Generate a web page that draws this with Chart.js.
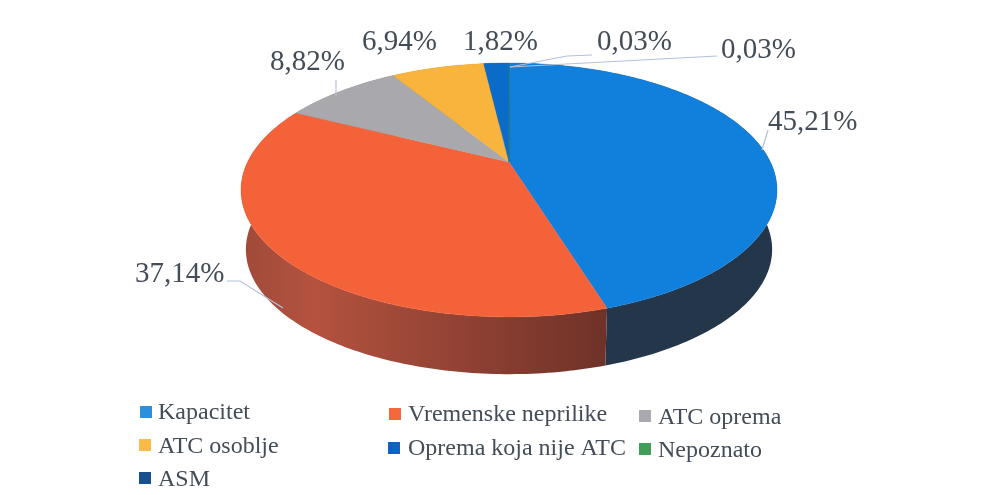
<!DOCTYPE html>
<html><head><meta charset="utf-8">
<style>html,body{margin:0;padding:0;background:#fff}#w{width:999px;height:495px;position:relative}canvas{filter:blur(0.45px)}</style>
<script src="https://cdn.jsdelivr.net/npm/chart.js@4"></script>
</head><body><div id="w"><canvas id="c" width="999" height="495"></canvas></div>
<script>
const categories = ['Kapacitet','Vremenske neprilike','ATC oprema','ATC osoblje','Oprema koja nije ATC','Nepoznato','ASM'];
const shares = [45.21,37.14,8.82,6.94,1.82,0.03,0.03];
const shareLabels = ['45,21%','37,14%','8,82%','6,94%','1,82%','0,03%','0,03%'];
const topColors = ['#1180dc','#f4623a','#a9a8ac','#f8b43c','#0a6cc8','#3a9a52','#1a5a9c'];
const legendColors = ['#2b8fe0','#f4683e','#a9a9b0','#f9bb45','#0e62c4','#3f9e58','#17508f'];
const sideColors = [['#283a4d','#24364a','#24364a'],['#a04a3a','#b4523f','#6e3228'],['#77777a','#77777a','#77777a'],['#a8802e','#a8802e','#a8802e'],['#084a88','#084a88','#084a88'],['#24602f','#24602f','#24602f'],['#0f3a66','#0f3a66','#0f3a66']];

// Perspective projection of the pie disc, scaled from the arc's own radius
const KX=2.64, KY=1.22, PERSP=0.2205, DEPTH=60, BOTTOM_SCALE=0.982;
function rim(el,ang,bottom){
  const u=Math.cos(ang), v=Math.sin(ang), d=1-PERSP*v, r=el.outerRadius;
  const s=bottom?BOTTOM_SCALE:1;
  return [el.x+s*KX*r*u/d, el.y+s*KY*r*v/d+(bottom?DEPTH:0)];
}
function rimPoints(el,bottom){
  const n=Math.max(2,Math.ceil((el.endAngle-el.startAngle)*60)),pts=[];
  for(let i=0;i<=n;i++)pts.push(rim(el,el.startAngle+(el.endAngle-el.startAngle)*i/n,bottom));
  return pts;
}
Chart.ArcElement.prototype.draw=function(ctx){
  const o=this.options; ctx.save();
  ctx.beginPath(); ctx.moveTo(this.x,this.y);
  rimPoints(this,false).forEach(p=>ctx.lineTo(p[0],p[1]));
  ctx.closePath(); ctx.fillStyle=o.backgroundColor; ctx.fill();
  ctx.strokeStyle=o.backgroundColor; ctx.lineWidth=0.4; ctx.stroke();
  ctx.restore();
};
const sides={id:'sides',beforeDatasetsDraw(chart){
  const ctx=chart.ctx;
  chart.getDatasetMeta(0).data.forEach((el,i)=>{
    const a=rimPoints(el,false),b=rimPoints(el,true).reverse();
    const xs=a.concat(b).map(p=>p[0]);
    const g=ctx.createLinearGradient(Math.min(...xs),0,Math.max(...xs),0);
    g.addColorStop(0,sideColors[i][0]);g.addColorStop(0.2,sideColors[i][1]);g.addColorStop(1,sideColors[i][2]);
    ctx.beginPath();a.concat(b).forEach((p,k)=>k?ctx.lineTo(p[0],p[1]):ctx.moveTo(p[0],p[1]));
    ctx.closePath();ctx.fillStyle=g;ctx.fill();
  });
}};
const leaderPaths=[[[762,150],[768,130]],[[227,281],[240,281],[283,308]],[[336,80],[336,96]],[],[],[[510,67],[567,56],[592,55]],[[510,67],[717,56]]];
const labelAt=[[768,130],[135,282],[270,70],[362,50],[463,50],[597,50],[721,58]];
const legendAt=[[140,406,158,419],[389,408,408,421],[639,410,658,424],[139,439,158,453],[388,442,408,455],[639,443,658,457],[139,472,158,486]];
const texts={id:'texts',afterDatasetsDraw(chart){
  const ctx=chart.ctx;ctx.save();
  ctx.strokeStyle='#b4c0da';ctx.lineWidth=1.2;
  leaderPaths.forEach(p=>{if(!p.length)return;ctx.beginPath();p.forEach((q,k)=>k?ctx.lineTo(q[0],q[1]):ctx.moveTo(q[0],q[1]));ctx.stroke();});
  ctx.fillStyle='#434c57';ctx.textAlign='left';ctx.textBaseline='alphabetic';
  ctx.font='29px "Liberation Serif"';
  shareLabels.forEach((t,i)=>ctx.fillText(t,labelAt[i][0],labelAt[i][1]));
  ctx.font='24px "Liberation Serif"';
  categories.forEach((t,i)=>{const L=legendAt[i];
    ctx.fillStyle=legendColors[i];ctx.fillRect(L[0],L[1],12,12);
    ctx.fillStyle='#434c57';ctx.fillText(t,L[2],L[3]);});
  ctx.restore();
}};
new Chart(document.getElementById('c'),{
  type:'pie',
  data:{labels:categories,datasets:[{data:shares,backgroundColor:topColors,borderWidth:0}]},
  options:{responsive:false,animation:false,
    layout:{padding:{left:410,right:391,top:63,bottom:234}},
    plugins:{legend:{display:false},tooltip:{enabled:false}}},
  plugins:[sides,texts]
});
</script></body></html>
